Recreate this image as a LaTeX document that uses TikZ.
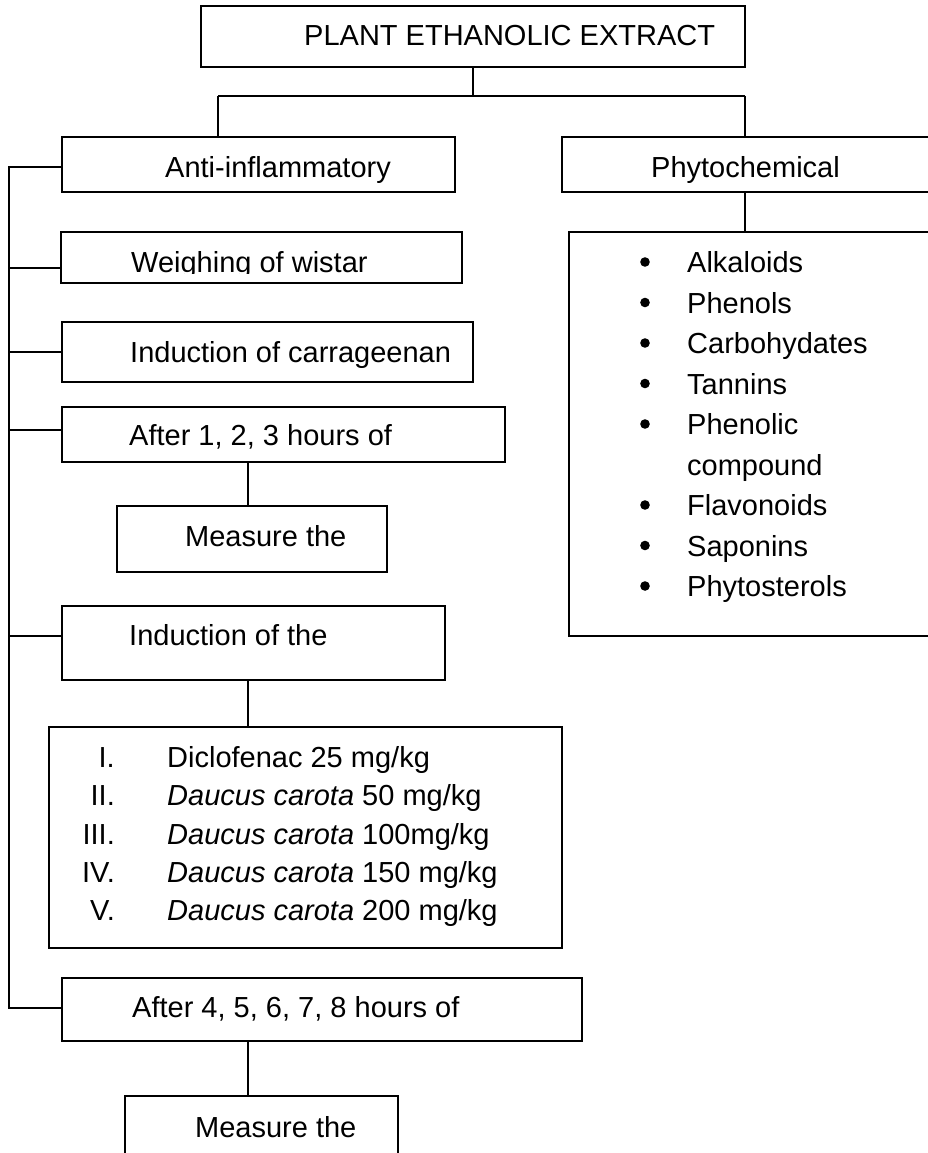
\documentclass[tikz,border=0pt]{standalone}
\usepackage{fontspec}
\setmainfont{Liberation Sans}
\begin{document}
\begin{tikzpicture}[x=1pt,y=-1pt,
  box/.style={draw, rectangle, line width=1.4pt, inner sep=0pt},
  lbl/.style={anchor=base west, inner sep=0pt, font=\fontsize{29}{38}\selectfont},
  num/.style={anchor=base east, inner sep=0pt, font=\fontsize{29}{38}\selectfont},
  conn/.style={line width=1.4pt},
  bul/.style={fill=black}]
\clip (0,0) rectangle (928,1153);
\fill[white] (0,0) rectangle (928,1153);

% boxes
\node[box, minimum width=544, minimum height=61] (top) at (473,36.5) {};
\node[box, minimum width=393, minimum height=55] (anti) at (258.5,164.5) {};
\node[box, minimum width=398, minimum height=55] (phyto) at (761,164.5) {};
\node[box, minimum width=391, minimum height=404] (plist) at (764.5,434) {};
\node[box, minimum width=401, minimum height=51] (weigh) at (261.5,257.5) {};
\node[box, minimum width=411, minimum height=60] (carr) at (267.5,352) {};
\node[box, minimum width=443, minimum height=55] (aft1) at (283.5,434.5) {};
\node[box, minimum width=270, minimum height=66] (meas1) at (252,539) {};
\node[box, minimum width=383, minimum height=74] (induc) at (253.5,643) {};
\node[box, minimum width=513, minimum height=221] (dose) at (305.5,837.5) {};
\node[box, minimum width=520, minimum height=63] (aft2) at (322,1009.5) {};
\node[box, minimum width=273, minimum height=84] (meas2) at (261.5,1138) {};

% texts
\node[lbl] (tTop) at (304,45.5) {PLANT ETHANOLIC EXTRACT};
\node[lbl] (tAnti) at (165,177.5) {Anti-inflammatory};
\node[lbl] (tPhyto) at (651,177.5) {Phytochemical};
\begin{scope}
\clip (weigh.north west) rectangle (462,273.5);
\node[lbl] (tWeigh) at (131,272.5) {Weighing of wistar};
\end{scope}
\node[lbl] (tCarr) at (130,362.5) {Induction of carrageenan};
\node[lbl] (tAft1) at (129,445.5) {After 1, 2, 3 hours of};
\node[lbl] (tMeas1) at (185,546.5) {Measure the};
\node[lbl] (tInduc) at (129,645.5) {Induction of the};
\node[lbl] (tAft2) at (132,1017.5) {After 4, 5, 6, 7, 8 hours of};
\node[lbl] (tMeas2) at (195,1137.5) {Measure the};

% dosage list
\node[num] (n1) at (115,767.5) {I.};
\node[num] (n2) at (115,805.75) {II.};
\node[num] (n3) at (115,844) {III.};
\node[num] (n4) at (115,882.25) {IV.};
\node[num] (n5) at (115,920.5) {V.};
\node[lbl] (d1) at (167,767.5) {Diclofenac 25 mg/kg};
\node[lbl] (d2) at (167,805.75) {\textit{Daucus carota} 50 mg/kg};
\node[lbl] (d3) at (167,844) {\textit{Daucus carota} 100mg/kg};
\node[lbl] (d4) at (167,882.25) {\textit{Daucus carota} 150 mg/kg};
\node[lbl] (d5) at (167,920.5) {\textit{Daucus carota} 200 mg/kg};

% phytochemical list
\foreach \t/\i in {Alkaloids/0, Phenols/1, Carbohydates/2, Tannins/3, Phenolic/4, Flavonoids/6, Saponins/7, Phytosterols/8}{
  \fill[bul] (645,{272.5+40.5*\i-10.5}) circle (4.8);
  \node[lbl] (p\i) at (687,{272.5+40.5*\i}) {\t};
}
\node[lbl] (p5) at (687,{272.5+40.5*5}) {compound};

% connectors
\coordinate (jl) at (218,96);
\coordinate (jr) at (745,96);
\draw[conn] (top.south) -- (top.south |- jl);
\draw[conn] (jl) -- (jr);
\draw[conn] (jl) -- (jl |- anti.north);
\draw[conn] (jr) -- (jr |- phyto.north);
\draw[conn] (jr |- phyto.south) -- (jr |- plist.north);

\coordinate (s0) at (9,167);
\coordinate (s1) at (9,268);
\coordinate (s2) at (9,352);
\coordinate (s3) at (9,430);
\coordinate (s4) at (9,636);
\coordinate (s5) at (9,1008);
\draw[conn] (anti.west |- s0) -- (s0) -- (s5) -- (s5 -| aft2.west);
\draw[conn] (s1) -- (s1 -| weigh.west);
\draw[conn] (s2) -- (s2 -| carr.west);
\draw[conn] (s3) -- (s3 -| aft1.west);
\draw[conn] (s4) -- (s4 -| induc.west);

\coordinate (v) at (248,0);
\draw[conn] (v |- aft1.south) -- (v |- meas1.north);
\draw[conn] (v |- induc.south) -- (v |- dose.north);
\draw[conn] (v |- aft2.south) -- (v |- meas2.north);
\end{tikzpicture}
\end{document}
